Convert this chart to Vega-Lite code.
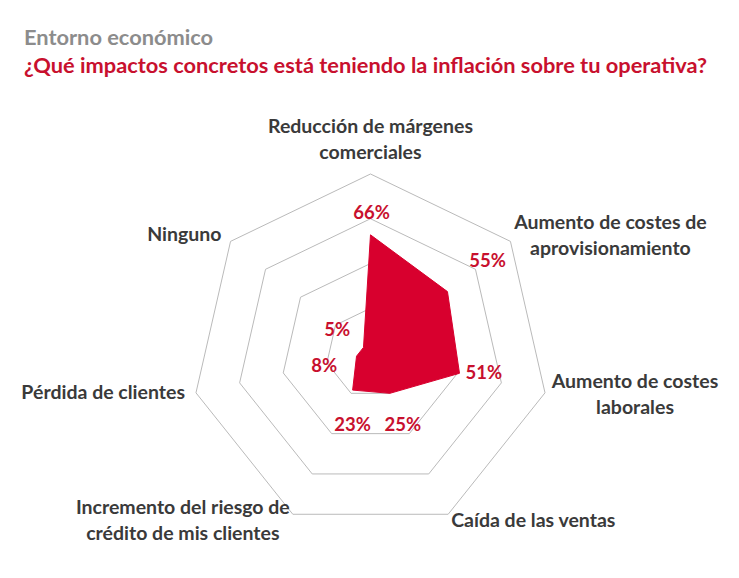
{
  "$schema": "https://vega.github.io/schema/vega-lite/v6.json",
  "width": 739,
  "height": 483,
  "autosize": {"type": "none"},
  "padding": {"top": 95, "left": 0, "right": 0, "bottom": 0},
  "background": "white",
  "config": {"view": {"stroke": null}, "font": "Lato"},
  "title": {
    "text": "Entorno económico",
    "subtitle": "¿Qué impactos concretos está teniendo la inflación sobre tu operativa?",
    "anchor": "start",
    "frame": "group",
    "orient": "top",
    "offset": 17,
    "dx": 24,
    "font": "Lato",
    "fontSize": 21.8,
    "fontWeight": "bold",
    "color": "#8c8c8c",
    "subtitleFont": "Lato",
    "subtitleFontSize": 21.8,
    "subtitleFontWeight": "bold",
    "subtitleColor": "#c8102e",
    "subtitlePadding": 6
  },
  "datasets": {
    "impactos": [
      {"i": 0, "categoria": "Reducción de márgenes\ncomerciales", "valor": 66},
      {"i": 1, "categoria": "Aumento de costes de\naprovisionamiento", "valor": 55},
      {"i": 2, "categoria": "Aumento de costes\nlaborales", "valor": 51},
      {"i": 3, "categoria": "Caída de las ventas", "valor": 25},
      {"i": 4, "categoria": "Incremento del riesgo de\ncrédito de mis clientes", "valor": 23},
      {"i": 5, "categoria": "Pérdida de clientes", "valor": 8},
      {"i": 6, "categoria": "Ninguno", "valor": 5}
    ],
    "anillos": [
      {"i": 0, "r": [25, 50, 75, 100]},
      {"i": 1, "r": [25, 50, 75, 100]},
      {"i": 2, "r": [25, 50, 75, 100]},
      {"i": 3, "r": [25, 50, 75, 100]},
      {"i": 4, "r": [25, 50, 75, 100]},
      {"i": 5, "r": [25, 50, 75, 100]},
      {"i": 6, "r": [25, 50, 75, 100]}
    ]
  },
  "data": {"name": "impactos"},
  "transform": [
    {"calculate": "datum.i * 2 * PI / 7", "as": "a"},
    {"calculate": "datum.valor + '%'", "as": "etiqueta"}
  ],
  "encoding": {
    "x": {"field": "px", "type": "quantitative", "scale": {"domain": [-206.98, 205.87], "nice": false, "zero": false}, "axis": null},
    "y": {"field": "py", "type": "quantitative", "scale": {"domain": [-125.70, 144.13], "nice": false, "zero": false}, "axis": null}
  },
  "layer": [
    {
      "data": {"name": "anillos"},
      "transform": [
        {"flatten": ["r"]},
        {"calculate": "datum.i * 2 * PI / 7", "as": "a"},
        {"calculate": "datum.r * sin(datum.a)", "as": "px"},
        {"calculate": "datum.r * cos(datum.a)", "as": "py"}
      ],
      "mark": {"type": "line", "interpolate": "linear-closed", "color": "#bababa", "strokeWidth": 1, "clip": false},
      "encoding": {
        "detail": {"field": "r", "type": "nominal"},
        "order": {"field": "i", "type": "quantitative"}
      }
    },
    {
      "transform": [
        {"calculate": "datum.valor * sin(datum.a)", "as": "px"},
        {"calculate": "datum.valor * cos(datum.a)", "as": "py"}
      ],
      "mark": {"type": "line", "interpolate": "linear-closed", "fill": "#d8002e", "stroke": "#d8002e", "strokeWidth": 1},
      "encoding": {
        "order": {"field": "i", "type": "quantitative"}
      }
    },
    {
      "transform": [
        {"filter": "datum.i == 3 || datum.i == 5 || datum.i == 6"},
        {"calculate": "(datum.valor + 18) * sin(datum.a)", "as": "px"},
        {"calculate": "(datum.valor + 18) * cos(datum.a)", "as": "py"}
      ],
      "mark": {"type": "text", "font": "Lato", "fontSize": 18.5, "fontWeight": "bold", "color": "#c8102e", "align": "center", "baseline": "middle", "dx": -1, "dy": 3},
      "encoding": {"text": {"field": "etiqueta", "type": "nominal"}}
    },
    {
      "transform": [
        {"filter": "datum.i == 0"},
        {"calculate": "(datum.valor + 18) * sin(datum.a)", "as": "px"},
        {"calculate": "(datum.valor + 18) * cos(datum.a)", "as": "py"}
      ],
      "mark": {"type": "text", "font": "Lato", "fontSize": 18.5, "fontWeight": "bold", "color": "#c8102e", "align": "center", "baseline": "middle", "dx": 1, "dy": 10},
      "encoding": {"text": {"field": "etiqueta", "type": "nominal"}}
    },
    {
      "transform": [
        {"filter": "datum.i == 1"},
        {"calculate": "(datum.valor + 18) * sin(datum.a)", "as": "px"},
        {"calculate": "(datum.valor + 18) * cos(datum.a)", "as": "py"}
      ],
      "mark": {"type": "text", "font": "Lato", "fontSize": 18.5, "fontWeight": "bold", "color": "#c8102e", "align": "center", "baseline": "middle", "dx": 15, "dy": -11},
      "encoding": {"text": {"field": "etiqueta", "type": "nominal"}}
    },
    {
      "transform": [
        {"filter": "datum.i == 2"},
        {"calculate": "(datum.valor + 18) * sin(datum.a)", "as": "px"},
        {"calculate": "(datum.valor + 18) * cos(datum.a)", "as": "py"}
      ],
      "mark": {"type": "text", "font": "Lato", "fontSize": 18.5, "fontWeight": "bold", "color": "#c8102e", "align": "center", "baseline": "middle", "dx": -7, "dy": -7},
      "encoding": {"text": {"field": "etiqueta", "type": "nominal"}}
    },
    {
      "transform": [
        {"filter": "datum.i == 4"},
        {"calculate": "(datum.valor + 18) * sin(datum.a)", "as": "px"},
        {"calculate": "(datum.valor + 18) * cos(datum.a)", "as": "py"}
      ],
      "mark": {"type": "text", "font": "Lato", "fontSize": 18.5, "fontWeight": "bold", "color": "#c8102e", "align": "center", "baseline": "middle", "dx": 14, "dy": 6},
      "encoding": {"text": {"field": "etiqueta", "type": "nominal"}}
    },
    {
      "transform": [
        {"filter": "datum.i == 0"},
        {"calculate": "100 * sin(datum.a)", "as": "px"},
        {"calculate": "100 * cos(datum.a)", "as": "py"}
      ],
      "mark": {"type": "text", "font": "Lato", "fontSize": 19.5, "fontWeight": "bold", "color": "#3a3a3a", "align": "center", "baseline": "middle", "lineBreak": "\n", "lineHeight": 26, "dy": -47},
      "encoding": {"text": {"field": "categoria", "type": "nominal"}}
    },
    {
      "transform": [
        {"filter": "datum.i == 1"},
        {"calculate": "100 * sin(datum.a)", "as": "px"},
        {"calculate": "100 * cos(datum.a)", "as": "py"}
      ],
      "mark": {"type": "text", "font": "Lato", "fontSize": 19.5, "fontWeight": "bold", "color": "#3a3a3a", "align": "center", "baseline": "middle", "lineBreak": "\n", "lineHeight": 26, "dx": 100, "dy": -18},
      "encoding": {"text": {"field": "categoria", "type": "nominal"}}
    },
    {
      "transform": [
        {"filter": "datum.i == 2"},
        {"calculate": "100 * sin(datum.a)", "as": "px"},
        {"calculate": "100 * cos(datum.a)", "as": "py"}
      ],
      "mark": {"type": "text", "font": "Lato", "fontSize": 19.5, "fontWeight": "bold", "color": "#3a3a3a", "align": "center", "baseline": "middle", "lineBreak": "\n", "lineHeight": 26, "dx": 90, "dy": -11},
      "encoding": {"text": {"field": "categoria", "type": "nominal"}}
    },
    {
      "transform": [
        {"filter": "datum.i == 3"},
        {"calculate": "100 * sin(datum.a)", "as": "px"},
        {"calculate": "100 * cos(datum.a)", "as": "py"}
      ],
      "mark": {"type": "text", "font": "Lato", "fontSize": 19.5, "fontWeight": "bold", "color": "#3a3a3a", "align": "left", "baseline": "middle", "dx": 3, "dy": 7},
      "encoding": {"text": {"field": "categoria", "type": "nominal"}}
    },
    {
      "transform": [
        {"filter": "datum.i == 4"},
        {"calculate": "100 * sin(datum.a)", "as": "px"},
        {"calculate": "100 * cos(datum.a)", "as": "py"}
      ],
      "mark": {"type": "text", "font": "Lato", "fontSize": 19.5, "fontWeight": "bold", "color": "#3a3a3a", "align": "center", "baseline": "middle", "lineBreak": "\n", "lineHeight": 26, "dx": -110, "dy": -6},
      "encoding": {"text": {"field": "categoria", "type": "nominal"}}
    },
    {
      "transform": [
        {"filter": "datum.i == 5"},
        {"calculate": "100 * sin(datum.a)", "as": "px"},
        {"calculate": "100 * cos(datum.a)", "as": "py"}
      ],
      "mark": {"type": "text", "font": "Lato", "fontSize": 19.5, "fontWeight": "bold", "color": "#3a3a3a", "align": "right", "baseline": "middle", "dx": -11, "dy": 0},
      "encoding": {"text": {"field": "categoria", "type": "nominal"}}
    },
    {
      "transform": [
        {"filter": "datum.i == 6"},
        {"calculate": "100 * sin(datum.a)", "as": "px"},
        {"calculate": "100 * cos(datum.a)", "as": "py"}
      ],
      "mark": {"type": "text", "font": "Lato", "fontSize": 19.5, "fontWeight": "bold", "color": "#3a3a3a", "align": "right", "baseline": "middle", "dx": -9, "dy": -6},
      "encoding": {"text": {"field": "categoria", "type": "nominal"}}
    }
  ]
}
